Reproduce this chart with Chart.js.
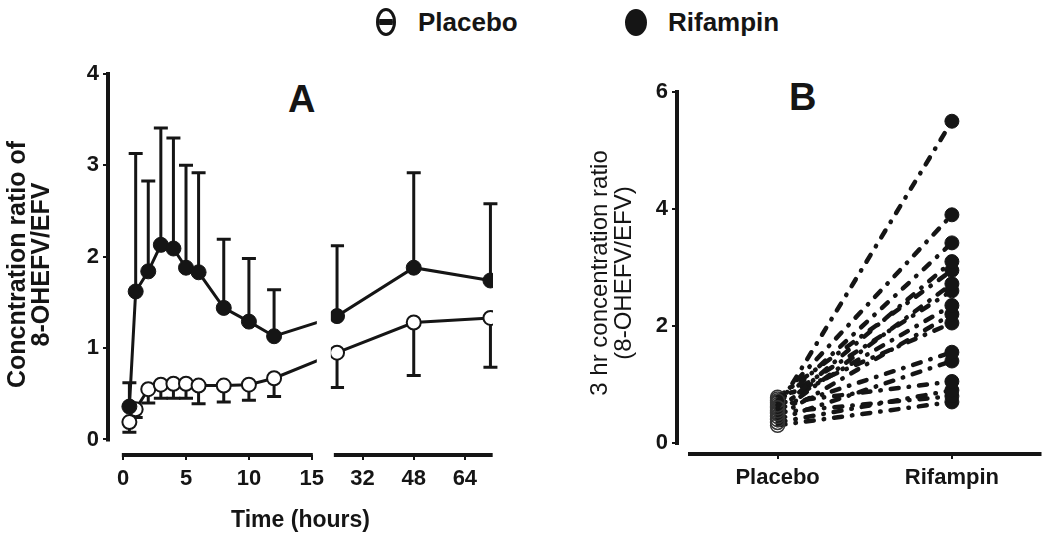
<!DOCTYPE html>
<html>
<head>
<meta charset="utf-8">
<script src="https://cdn.jsdelivr.net/npm/chart.js@4.4.1/dist/chart.umd.min.js"></script>
<style>
  body { margin: 0; background: #fff; width: 1050px; height: 540px; position: relative; overflow: hidden;
         font-family: "Liberation Sans", Arial, sans-serif; color: #151515; }
  canvas { position: absolute; top: 0; }
  #chartA { left: 0; }
  #chartB { left: 540px; }
  .lbl { position: absolute; font-weight: bold; white-space: nowrap; }
  .legend-text { font-size: 26px; line-height: 34px; top: 5px; }
  .panel { font-size: 38px; line-height: 40px; }
  .mk { position: absolute; border-radius: 50%; box-sizing: border-box; }
  .mk-open { left: 376px; top: 8px; width: 20px; height: 28px; border: 3.5px solid #151515; background: #fff; overflow: hidden; }
  .mk-open::after { content: ""; position: absolute; left: 0; right: 0; top: 8px; height: 6px; background: #151515; }
  .mk-fill { left: 625px; top: 9px; width: 22px; height: 27px; background: #151515; }
</style>
</head>
<body>
<div class="mk mk-open"></div>
<div class="lbl legend-text" style="left:418px">Placebo</div>
<div class="mk mk-fill"></div>
<div class="lbl legend-text" style="left:668px">Rifampin</div>
<div class="lbl panel" style="left:288px;top:79px">A</div>
<div class="lbl panel" style="left:789px;top:77px">B</div>
<canvas id="chartA" width="540" height="540"></canvas>
<canvas id="chartB" width="510" height="540"></canvas>
<script>
// panel A: time course, mean with one-sided SD bars
const hours = [0.5, 1, 2, 3, 4, 5, 6, 8, 10, 12, 24, 48, 72];
const placeboMean = [0.19, 0.33, 0.55, 0.60, 0.61, 0.61, 0.59, 0.59, 0.60, 0.67, 0.95, 1.28, 1.33];
const placeboLow = [0.08, 0.24, 0.40, 0.45, 0.45, 0.45, 0.39, 0.41, 0.43, 0.47, 0.57, 0.70, 0.79];
const rifampinMean = [0.36, 1.62, 1.84, 2.13, 2.09, 1.88, 1.83, 1.44, 1.29, 1.13, 1.35, 1.88, 1.74];
const rifampinHigh = [0.62, 3.13, 2.83, 3.41, 3.30, 3.00, 2.92, 2.19, 1.98, 1.64, 2.12, 2.92, 2.58];
const xTickHours = [0, 5, 10, 15, 32, 48, 64];
const yTicksA = [0, 1, 2, 3, 4];

// panel B: 3 hr ratio per subject
const groupsB = ['Placebo', 'Rifampin'];
const placeboB = [0.60, 0.72, 0.65, 0.55, 0.78, 0.50, 0.70, 0.62, 0.45, 0.75, 0.58, 0.40, 0.68, 0.35, 0.52, 0.30];
const rifampinB = [5.50, 3.90, 3.42, 3.10, 2.95, 2.72, 2.60, 2.35, 2.20, 2.05, 1.55, 1.40, 1.05, 0.90, 0.80, 0.70];
const yTicksB = [0, 2, 4, 6];

const ink = '#151515';
Chart.defaults.font.family = '"Liberation Sans", Arial, sans-serif';
Chart.defaults.color = ink;

// broken time axis: 0-15 h as is, then 23-73 h compressed
const breakAt = 15, resumeAt = 23, gap = 1.75, squeeze = 0.254;
function brk(h) {
  return h <= breakAt ? h : breakAt + gap + (h - resumeAt) * squeeze;
}

const tickFont = { size: 22, weight: 'bold' };

const axesA = {
  id: 'axesA',
  beforeDatasetsDraw(chart) {
    const { ctx, scales: { x, y } } = chart;
    ctx.save();
    ctx.strokeStyle = ink;
    ctx.lineWidth = 3;
    const cap = 7;
    const bar = (i, v) => {
      const px = x.getPixelForValue(brk(hours[i]));
      const y0 = y.getPixelForValue(i === -1 ? 0 : v[0]);
      const y1 = y.getPixelForValue(v[1]);
      ctx.beginPath();
      ctx.moveTo(px, y0); ctx.lineTo(px, y1);
      ctx.moveTo(px - cap, y1); ctx.lineTo(px + cap, y1);
      ctx.stroke();
    };
    hours.forEach((h, i) => {
      bar(i, [rifampinMean[i], rifampinHigh[i]]);
      bar(i, [placeboMean[i], placeboLow[i]]);
    });
    ctx.restore();
  },
  afterDatasetsDraw(chart) {
    const { ctx, chartArea, scales: { x, y } } = chart;
    ctx.save();
    // white gap at the axis break
    const g0 = x.getPixelForValue(breakAt) + 5;
    const g1 = x.getPixelForValue(brk(resumeAt)) - 3;
    ctx.fillStyle = '#fff';
    ctx.fillRect(g0, chartArea.top, g1 - g0, chartArea.bottom - chartArea.top);
    ctx.strokeStyle = ink;
    ctx.lineWidth = 4;
    ctx.beginPath();
    ctx.moveTo(chartArea.left, y.getPixelForValue(0) + 2);
    ctx.lineTo(chartArea.left, y.getPixelForValue(4) - 2);
    const by = chartArea.bottom;
    ctx.moveTo(x.getPixelForValue(-0.1), by);
    ctx.lineTo(x.getPixelForValue(breakAt) + 1, by);
    ctx.moveTo(x.getPixelForValue(brk(resumeAt)), by);
    ctx.lineTo(x.getPixelForValue(brk(72.7)), by);
    ctx.stroke();
    ctx.restore();
  }
};

new Chart(document.getElementById('chartA'), {
  type: 'line',
  data: {
    datasets: [
      {
        label: 'Rifampin',
        data: hours.map((h, i) => ({ x: brk(h), y: rifampinMean[i] })),
        borderColor: ink, borderWidth: 3,
        pointRadius: 7.5, pointBackgroundColor: ink, pointBorderColor: ink, pointBorderWidth: 1,
        order: 0
      },
      {
        label: 'Placebo',
        data: hours.map((h, i) => ({ x: brk(h), y: placeboMean[i] })),
        borderColor: ink, borderWidth: 3,
        pointRadius: 7, pointBackgroundColor: '#fff', pointBorderColor: ink, pointBorderWidth: 2,
        order: 1
      }
    ]
  },
  options: {
    responsive: false,
    animation: false,
    layout: { padding: { top: 74, right: 47, left: 0, bottom: 0 } },
    plugins: { legend: { display: false }, tooltip: { enabled: false } },
    scales: {
      x: {
        type: 'linear', min: -1.2, max: 29.4,
        afterBuildTicks: s => { s.ticks = xTickHours.map(h => ({ value: brk(h) })); },
        afterFit: s => { s.height = 85; },
        grid: { drawOnChartArea: false, tickLength: 5, tickColor: ink, lineWidth: 2 },
        border: { display: false },
        ticks: { font: tickFont, color: ink, padding: 6, maxRotation: 0, autoSkip: false,
                 callback: (v, i) => xTickHours[i] },
        title: { display: true, text: 'Time (hours)', color: ink,
                 font: { size: 23, weight: 'bold' }, padding: { top: 0, bottom: 6 } }
      },
      y: {
        min: -0.17, max: 4,
        afterBuildTicks: s => { s.ticks = yTicksA.map(v => ({ value: v })); },
        afterFit: s => { s.width = 108; },
        grid: { drawOnChartArea: false, tickLength: 5, tickColor: ink, lineWidth: 2 },
        border: { display: false },
        ticks: { font: tickFont, color: ink, padding: 4 },
        title: { display: true, text: ['Concntration ratio of', '8-OHEFV/EFV'], color: ink,
                 font: { size: 25, weight: 'bold', lineHeight: 0.96 }, padding: { top: 6, bottom: 0 } }
      }
    }
  },
  plugins: [axesA]
});

const axesB = {
  id: 'axesB',
  afterDatasetsDraw(chart) {
    const { ctx, chartArea, scales: { y } } = chart;
    ctx.save();
    ctx.strokeStyle = ink;
    ctx.lineWidth = 4;
    ctx.beginPath();
    ctx.moveTo(chartArea.left, y.getPixelForValue(0) + 2);
    ctx.lineTo(chartArea.left, y.getPixelForValue(6) - 2);
    ctx.moveTo(chartArea.left + 11, chartArea.bottom);
    ctx.lineTo(chartArea.right, chartArea.bottom);
    ctx.stroke();
    ctx.restore();
  }
};

new Chart(document.getElementById('chartB'), {
  type: 'line',
  data: {
    datasets: placeboB.map((p, i) => ({
      label: 'Subject ' + (i + 1),
      data: [{ x: 0, y: p }, { x: 1, y: rifampinB[i] }],
      borderColor: ink, borderWidth: 4.5,
      borderDash: [8, 10, 0.5, 10], borderCapStyle: 'round',
      pointRadius: 7,
      pointBackgroundColor: ['rgba(255,255,255,0)', ink],
      pointBorderColor: ['#333', ink],
      pointBorderWidth: [1.5, 1]
    }))
  },
  options: {
    responsive: false,
    animation: false,
    layout: { padding: { top: 92, right: 7, left: 0, bottom: 0 } },
    plugins: { legend: { display: false }, tooltip: { enabled: false } },
    scales: {
      x: {
        type: 'linear', min: -0.577, max: 1.514,
        afterBuildTicks: s => { s.ticks = groupsB.map((g, i) => ({ value: i })); },
        afterFit: s => { s.height = 86; },
        grid: { drawOnChartArea: false, tickLength: 5, tickColor: ink, lineWidth: 2 },
        border: { display: false },
        ticks: { font: tickFont, color: ink, padding: 6, maxRotation: 0, autoSkip: false,
                 callback: (v, i) => groupsB[i] }
      },
      y: {
        min: -0.19, max: 6,
        afterBuildTicks: s => { s.ticks = yTicksB.map(v => ({ value: v })); },
        afterFit: s => { s.width = 137; },
        grid: { drawOnChartArea: false, tickLength: 5, tickColor: ink, lineWidth: 2 },
        border: { display: false },
        ticks: { font: tickFont, color: ink, padding: 4 },
        title: { display: true, text: ['3 hr concentration ratio', '(8-OHEFV/EFV)'], color: ink,
                 font: { size: 24, weight: 'normal', lineHeight: 1 }, padding: { top: 48, bottom: 0 } }
      }
    }
  },
  plugins: [axesB]
});
</script>
</body>
</html>
